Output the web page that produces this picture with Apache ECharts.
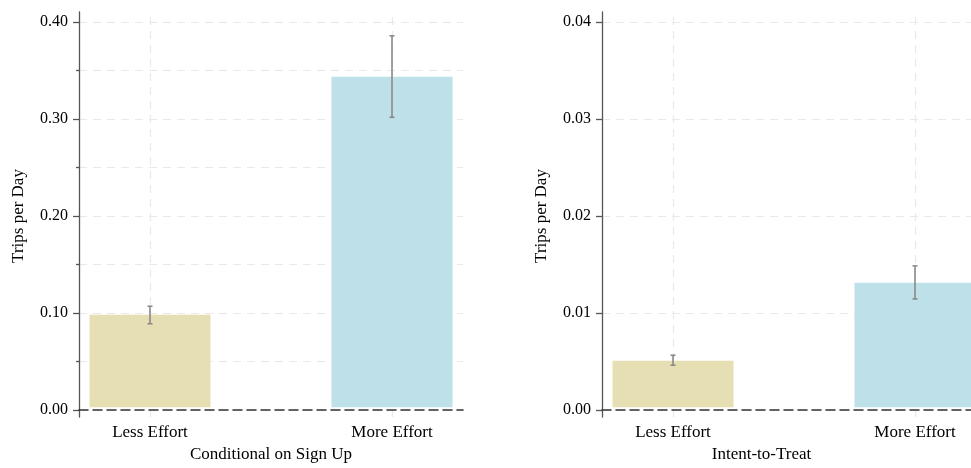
<!DOCTYPE html>
<html>
<head>
<meta charset="utf-8">
<script src="https://cdn.jsdelivr.net/npm/echarts@6/dist/echarts.min.js"></script>
<style>
  html, body { margin: 0; padding: 0; background: #fff; }
  #chart { width: 971px; height: 468px; }
</style>
</head>
<body>
<div id="chart"></div>
<script>
var categories = ['Less Effort', 'More Effort'];
var barColors = ['#e7dfb4', '#bde0e9'];

// Conditional on Sign Up
var signUpMean = [0.0959, 0.343];
var signUpLow = [0.0866, 0.301];
var signUpHigh = [0.1048, 0.3856];

// Intent-to-Treat
var ittMean = [0.00481, 0.01292];
var ittLow = [0.00436, 0.01124];
var ittHigh = [0.00539, 0.01467];

var serif = 'Liberation Serif';
var gridDash = [8, 6];
var gridColor = '#e9e9e9';

var chart = echarts.init(document.getElementById('chart'));

function mainY(gridIndex, max, step, minor) {
    return {
        gridIndex: gridIndex, type: 'value', min: 0, max: max, interval: step,
        axisLine: { show: false },
        axisTick: { show: true, length: 6, lineStyle: { color: '#555', width: 1.3 } },
        minorTick: { show: minor, splitNumber: 2, length: 3, lineStyle: { color: '#555', width: 1.3 } },
        axisLabel: {
            margin: 11, color: '#000', fontFamily: serif, fontSize: 16,
            formatter: function (v) { return v.toFixed(2); }
        },
        splitLine: { show: true, lineStyle: { color: gridColor, type: gridDash, width: 1.2 } },
        minorSplitLine: { show: minor, lineStyle: { color: gridColor, type: gridDash, width: 1.2 } },
        name: 'Trips per Day', nameLocation: 'middle', nameGap: 52,
        nameTextStyle: { color: '#000', fontFamily: serif, fontSize: 17 }
    };
}

function frameY(gridIndex, max, pad) {
    return {
        gridIndex: gridIndex, type: 'value', min: -pad, max: max + pad, offset: -50,
        axisLine: { show: true, onZero: false, lineStyle: { color: '#555', width: 1.3 } },
        axisTick: { show: false }, axisLabel: { show: false }, splitLine: { show: false }
    };
}

function mainX(gridIndex) {
    return {
        gridIndex: gridIndex, type: 'value', min: 0, max: 1, z: 10,
        axisLine: { show: true, lineStyle: { color: '#333', width: 1.6, type: [9, 5] } },
        axisTick: { show: false }, axisLabel: { show: false }, splitLine: { show: false }
    };
}

// category positions 0 and 1 on a value axis, 242 px apart
function frameX(gridIndex, title, max) {
    return {
        gridIndex: gridIndex, type: 'value', min: -0.5, max: max, interval: 0.5,
        axisLine: { show: false, onZero: false }, axisTick: { show: false },
        axisLabel: {
            margin: 7, color: '#000', fontFamily: serif, fontSize: 17,
            showMinLabel: true, showMaxLabel: false,
            formatter: function (v) {
                var i = Math.round(v);
                return (Math.abs(v - i) < 1e-6 && categories[i]) ? categories[i] : '';
            }
        },
        splitLine: { show: false },
        name: title, nameLocation: 'middle', nameGap: 28,
        nameTextStyle: { color: '#000', fontFamily: serif, fontSize: 17 }
    };
}

function errorBars(axisIndex, low, high) {
    return {
        type: 'custom', xAxisIndex: axisIndex, yAxisIndex: axisIndex, z: 5,
        data: categories.map(function (c, i) { return [i, low[i], high[i]]; }),
        renderItem: function (params, api) {
            var lo = api.coord([api.value(0), api.value(1)]);
            var hi = api.coord([api.value(0), api.value(2)]);
            var w = 2.5;
            var st = { stroke: '#8a8a8a', lineWidth: 1.6 };
            return {
                type: 'group',
                children: [
                    { type: 'line', shape: { x1: lo[0], y1: lo[1], x2: hi[0], y2: hi[1] }, style: st },
                    { type: 'line', shape: { x1: lo[0] - w, y1: lo[1], x2: lo[0] + w, y2: lo[1] }, style: st },
                    { type: 'line', shape: { x1: hi[0] - w, y1: hi[1], x2: hi[0] + w, y2: hi[1] }, style: st }
                ]
            };
        }
    };
}

function bars(axisIndex, mean) {
    return {
        type: 'bar', xAxisIndex: axisIndex, yAxisIndex: axisIndex, barWidth: 121, z: 2,
        data: mean.map(function (v, i) {
            return { value: [i, v], itemStyle: { color: barColors[i] } };
        })
    };
}

function vLines(axisIndex, mean) {
    return {
        type: 'scatter', xAxisIndex: axisIndex, yAxisIndex: axisIndex, symbolSize: 0, z: 1,
        silent: true, data: mean.map(function (v, i) { return [i, v]; }),
        markLine: {
            silent: true, symbol: 'none', label: { show: false }, z: 1,
            lineStyle: { color: gridColor, type: gridDash, width: 1.2 },
            data: categories.map(function (c, i) { return { xAxis: i }; })
        }
    };
}

var option = {
    backgroundColor: '#fff',
    animation: false,
    grid: [
        { left: 79, top: 22, width: 384, height: 388 },
        { left: 29, top: 12, width: 484, height: 408 },
        { left: 602, top: 22, right: 0, height: 388 },
        { left: 552, top: 12, right: 0, height: 408 }
    ],
    xAxis: [
        mainX(0),
        frameX(1, 'Conditional on Sign Up', 1.5),
        mainX(2),
        frameX(3, 'Intent-to-Treat', (971 - 673) / 242)
    ],
    yAxis: [
        mainY(0, 0.4, 0.1, true),
        frameY(1, 0.4, 10 / 970),
        mainY(2, 0.04, 0.01, false),
        frameY(3, 0.04, 10 / 9700)
    ],
    series: [
        vLines(1, signUpMean),
        bars(1, signUpMean),
        errorBars(1, signUpLow, signUpHigh),
        vLines(3, ittMean),
        bars(3, ittMean),
        errorBars(3, ittLow, ittHigh)
    ]
};

chart.setOption(option);
</script>
</body>
</html>
